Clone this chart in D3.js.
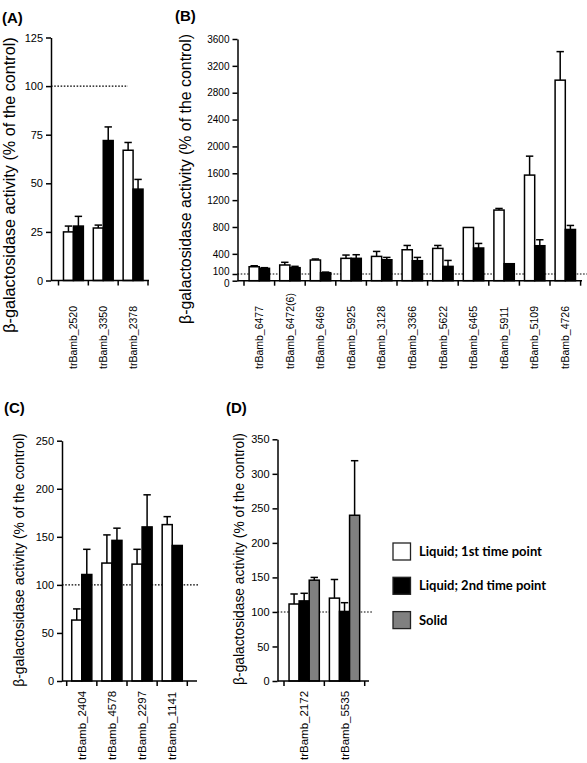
<!DOCTYPE html>
<html>
<head>
<meta charset="utf-8">
<script src="https://cdn.jsdelivr.net/npm/d3@7"></script>
<style>
  html, body { margin: 0; padding: 0; background: #fff; }
  svg { display: block; }
  text { font-family: "Liberation Sans", Arial, sans-serif; fill: #000; }
</style>
</head>
<body>
<svg id="chart" width="587" height="763"></svg>
<script>
// ---------------- DATA ----------------
const seriesNames = ["Liquid; 1st time point", "Liquid; 2nd time point", "Solid"];
const seriesColors = ["#ffffff", "#000000", "#808080"];
const yTitle = "β-galactosidase activity (% of the control)";

// Panel A
const catsA = ["trBamb_2520", "trBamb_3350", "trBamb_2378"];
const liquid1A = [25, 27, 67];
const liquid1ErrA = [3, 1.5, 4];
const liquid2A = [28, 72, 47];
const liquid2ErrA = [5, 7, 5];
const ticksA = [0, 25, 50, 75, 100, 125];

// Panel B
const catsB = ["trBamb_6477", "trBamb_6472(6)", "trBamb_6469", "trBamb_5925", "trBamb_3128",
  "trBamb_3366", "trBamb_5622", "trBamb_6465", "trBamb_5911", "trBamb_5109", "trBamb_4726"];
const liquid1B = [208, 234, 308, 333, 362, 461, 481, 793, 1052, 1573, 2987];
const liquid1ErrB = [15, 40, 15, 49, 74, 64, 44, 0, 24, 282, 425];
const liquid2B = [184, 194, 119, 333, 312, 298, 213, 487, 253, 521, 763];
const liquid2ErrB = [10, 20, 9, 54, 35, 49, 89, 68, 0, 89, 60];
const ticksB = [0, 100, 400, 800, 1200, 1600, 2000, 2400, 2800, 3200, 3600];

// Panel C
const catsC = ["trBamb_2404", "trBamb_4578", "trBamb_2297", "trBamb_1141"];
const liquid1C = [63.4, 122.7, 121.6, 162.7];
const liquid1ErrC = [11.6, 29.3, 15.4, 8.3];
const liquid2C = [110.8, 146.3, 160.3, 141];
const liquid2ErrC = [26.2, 12.7, 33.4, 0];
const ticksC = [0, 50, 100, 150, 200, 250];

// Panel D
const catsD = ["trBamb_2172", "trBamb_5535"];
const liquid1D = [111.5, 120];
const liquid1ErrD = [14.5, 27];
const liquid2D = [116, 100.7];
const liquid2ErrD = [11, 12.7];
const solidD = [146, 240];
const solidErrD = [4, 79];
const ticksD = [0, 50, 100, 150, 200, 250, 300, 350];

const controlLevel = 100;

// ---------------- DRAW ----------------
const svg = d3.select("#chart");

function drawPanel(o) {
  const g = svg.append("g");
  const y = d3.scaleLinear().domain([0, o.yMax]).range([o.y0, o.y1]);
  const x = d3.scaleBand().domain(o.cats).range([o.x0, o.x1]).paddingInner(0).paddingOuter(0);
  const nS = o.series.length;
  const xs = d3.scaleBand().domain(d3.range(nS)).range([0, x.bandwidth()]).paddingInner(0).paddingOuter(0.5);

  // dotted control line
  g.append("line")
    .attr("x1", o.axisX).attr("x2", o.dotEnd)
    .attr("y1", y(controlLevel)).attr("y2", y(controlLevel))
    .attr("stroke", "#000").attr("stroke-width", 1.1)
    .attr("stroke-dasharray", "1.6,1.6");

  // bars + error bars
  o.series.forEach((s, si) => {
    const rows = o.cats.map((c, i) => ({ c, v: s.values[i], e: s.errs[i] }));
    const sg = g.append("g");
    const cx = d => x(d.c) + xs(si) + xs.bandwidth() / 2;
    sg.selectAll("line.err").data(rows.filter(d => d.e > 0)).join("line")
      .attr("x1", cx).attr("x2", cx)
      .attr("y1", d => y(d.v)).attr("y2", d => y(d.v + d.e))
      .attr("stroke", "#000").attr("stroke-width", 1.5);
    sg.selectAll("line.cap").data(rows.filter(d => d.e > 0)).join("line")
      .attr("x1", d => cx(d) - 3.7)
      .attr("x2", d => cx(d) + 3.7)
      .attr("y1", d => y(d.v + d.e)).attr("y2", d => y(d.v + d.e))
      .attr("stroke", "#000").attr("stroke-width", 1.5);
    sg.selectAll("rect").data(rows).join("rect")
      .attr("x", d => x(d.c) + xs(si))
      .attr("width", xs.bandwidth())
      .attr("y", d => y(d.v))
      .attr("height", d => y(0) - y(d.v))
      .attr("fill", s.color)
      .attr("stroke", "#000").attr("stroke-width", 1.5);
  });

  // y axis
  const ya = g.append("g").attr("transform", `translate(${o.axisX},0)`)
    .call(d3.axisLeft(y).tickValues(o.ticks).tickFormat(d3.format("d"))
      .tickSize(5).tickSizeOuter(0).tickPadding(3));
  ya.select(".domain").attr("stroke-width", 1.5);
  ya.selectAll(".tick line").attr("stroke-width", 1.5);
  ya.selectAll(".tick text")
    .style("font-size", o.tickSize + "px")
    .style("font-family", "'Liberation Sans', Arial, sans-serif");
  if (o.nudge) {
    ya.selectAll(".tick text").attr("dy", d => (o.nudge[d] !== undefined ? o.nudge[d] : 0.32) + "em");
  }

  // x axis (labels from band scale)
  const xa = g.append("g").attr("transform", `translate(0,${o.y0})`)
    .call(d3.axisBottom(x).tickSize(0).tickSizeOuter(0));
  xa.select(".domain").remove();
  xa.selectAll(".tick text")
    .attr("x", 0).attr("y", 0).attr("dy", "0.36em")
    .attr("transform", `translate(0,${o.labelBottom - o.y0}) rotate(-90)`)
    .style("text-anchor", "start")
    .style("font-size", o.labelSize + "px")
    .style("font-family", "'Liberation Sans', Arial, sans-serif");
  xa.append("line").attr("x1", o.axisX).attr("x2", o.axisEnd).attr("y1", 0).attr("y2", 0)
    .attr("stroke", "#000").attr("stroke-width", 1.5);
  const bounds = [x.range()[0]].concat(o.cats.map(c => x(c) + x.bandwidth()));
  xa.selectAll("line.bt").data(bounds).join("line").attr("class", "bt")
    .attr("x1", d => d).attr("x2", d => d).attr("y1", 0).attr("y2", 5)
    .attr("stroke", "#000").attr("stroke-width", 1.5);

  // y title
  g.append("text")
    .attr("transform", `translate(${o.titleX},${o.titleY}) rotate(-90)`)
    .attr("text-anchor", "middle")
    .style("font-size", o.titleSize + "px")
    .text(yTitle);

  // panel letter
  g.append("text").attr("x", o.letterX).attr("y", o.letterY)
    .style("font-size", "15px").style("font-weight", "bold")
    .text(o.letter);
}

drawPanel({
  letter: "(A)", letterX: 2, letterY: 23,
  cats: catsA, ticks: ticksA, yMax: 125, tickSize: 11,
  series: [
    { values: liquid1A, errs: liquid1ErrA, color: seriesColors[0] },
    { values: liquid2A, errs: liquid2ErrA, color: seriesColors[1] }
  ],
  axisX: 51, y0: 280.5, y1: 37.5, x0: 58.5, x1: 148, axisEnd: 149, dotEnd: 128,
  labelBottom: 369, labelSize: 10.5,
  titleX: 14.5, titleY: 185, titleSize: 16.2
});

drawPanel({
  letter: "(B)", letterX: 175, letterY: 21,
  cats: catsB, ticks: ticksB, yMax: 3600, tickSize: 10,
  nudge: { 0: 0.62, 100: 0.08 },
  series: [
    { values: liquid1B, errs: liquid1ErrB, color: seriesColors[0] },
    { values: liquid2B, errs: liquid2ErrB, color: seriesColors[1] }
  ],
  axisX: 237.5, y0: 280.7, y1: 39, x0: 244, x1: 580.6, axisEnd: 582, dotEnd: 587,
  labelBottom: 369, labelSize: 10.5,
  titleX: 190.5, titleY: 179, titleSize: 15.9
});

drawPanel({
  letter: "(C)", letterX: 4, letterY: 413,
  cats: catsC, ticks: ticksC, yMax: 250, tickSize: 11,
  series: [
    { values: liquid1C, errs: liquid1ErrC, color: seriesColors[0] },
    { values: liquid2C, errs: liquid2ErrC, color: seriesColors[1] }
  ],
  axisX: 62, y0: 681, y1: 440.7, x0: 66.7, x1: 187.3, axisEnd: 197, dotEnd: 198,
  labelBottom: 760, labelSize: 11.5,
  titleX: 23.5, titleY: 560, titleSize: 13.9
});

drawPanel({
  letter: "(D)", letterX: 226, letterY: 413,
  cats: catsD, ticks: ticksD, yMax: 350, tickSize: 11,
  series: [
    { values: liquid1D, errs: liquid1ErrD, color: seriesColors[0] },
    { values: liquid2D, errs: liquid2ErrD, color: seriesColors[1] },
    { values: solidD, errs: solidErrD, color: seriesColors[2] }
  ],
  axisX: 277.5, y0: 681, y1: 439.3, x0: 284, x1: 364.7, axisEnd: 369, dotEnd: 372,
  labelBottom: 760, labelSize: 11.5,
  titleX: 243.5, titleY: 559, titleSize: 13.8
});

// legend
const leg = svg.append("g").attr("transform", "translate(393,543)");
seriesNames.forEach((n, i) => {
  const r = leg.append("g").attr("transform", `translate(0,${i * 34.3})`);
  r.append("rect").attr("x", 0).attr("y", 0).attr("width", 17.5).attr("height", 17)
    .attr("fill", seriesColors[i]).attr("stroke", "#222").attr("stroke-width", 1.3);
  r.append("text").attr("x", 26).attr("y", 8.5).attr("dy", "0.35em")
    .style("font-family", "Lato, 'Open Sans', sans-serif").style("font-size", "13px")
    .style("font-weight", "bold")
    .text(n);
});
</script>
</body>
</html>
